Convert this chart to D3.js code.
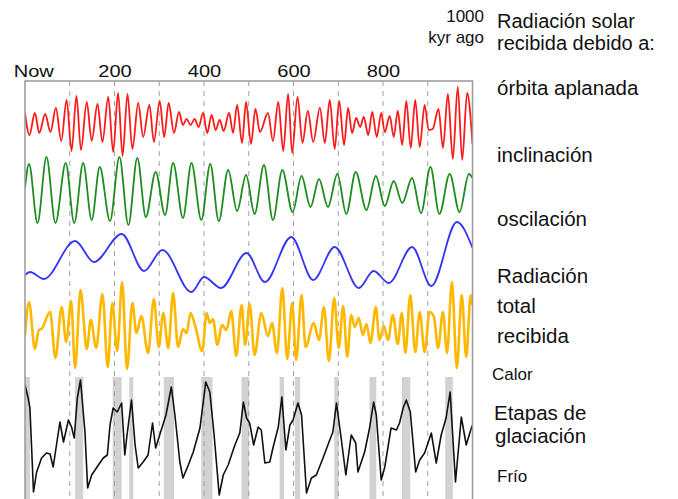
<!DOCTYPE html>
<html>
<head>
<meta charset="utf-8">
<script src="https://cdn.jsdelivr.net/npm/d3@7"></script>
<style>
  body { margin: 0; background: #fff; }
  text { font-family: "Liberation Sans", Arial, sans-serif; fill: #111; }
</style>
</head>
<body>
<div id="chart"></div>
<script>
// x axis: thousands of years ago
var tickValues = [0, 200, 400, 600, 800];
var tickLabels = ["Now", "200", "400", "600", "800"];
var gridValues = [100, 200, 300, 400, 500, 600, 700, 800, 900];

// extrema: [kyr ago, relative value]
var precession = [[0,11],[10,-11],[22,11],[32,-9],[45,10],[57,-8],[69,16],[81,-17],[93,24],[104,-27],[115,28],[125,-26],[138,22],[149,-17],[162,20],[173,-18],[186,27],[197,-28],[208,31],[218,-32],[229,30],[240,-25],[253,21],[264,-13],[278,19],[288,-18],[301,23],[311,-13],[321,21],[333,-9],[344,12],[353,-1],[361,5],[370,-1],[379,5],[388,-3],[398,11],[407,-9],[417,9],[426,-6],[435,4],[444,-7],[456,11],[465,-9],[474,19],[485,-19],[494,22],[505,-20],[515,15],[525,-8],[543,11],[554,-17],[566,22],[577,-27],[588,30],[597,-29],[609,27],[620,-19],[632,13],[644,-18],[659,16],[670,-19],[681,24],[692,-25],[702,23],[713,-21],[722,16],[731,-9],[740,6],[749,-3],[757,7],[767,-11],[776,12],[786,-13],[796,11],[804,-8],[815,8],[824,-13],[833,13],[843,-21],[852,23],[862,-24],[872,24],[882,-23],[893,19],[902,-6],[911,-5],[924,15],[934,-24],[945,30],[956,-35],[967,37],[977,-36],[988,31],[1000,-20]];

var obliquity = [[0,2],[9,26],[28,-33],[48,33],[68,-33],[91,27],[110,-33],[130,27],[149,-30],[167,23],[190,-31],[211,33],[231,-35],[251,32],[270,-27],[292,18],[313,-25],[331,27],[353,-28],[372,27],[394,-30],[414,26],[433,-31],[454,20],[474,-21],[494,15],[513,-24],[534,25],[554,-30],[575,20],[598,-22],[618,14],[638,-17],[657,11],[677,-17],[698,16],[718,-24],[739,18],[763,-20],[784,14],[804,-16],[824,9],[843,-13],[865,12],[885,-23],[906,23],[926,-24],[949,16],[971,-22],[992,16],[1000,12]];

var eccentricity = [[0,-18],[11,-15],[42,-22],[112,16],[154,-5],[216,23],[266,-14],[307,7],[372,-35],[400,-20],[438,-31],[495,4],[536,-25],[595,20],[644,-23],[692,10],[746,-31],[779,-14],[813,-26],[865,10],[908,-29],[965,35],[1000,9]];

var totalRadiation = [[0,-10],[9,23],[22,-24],[31,-5],[37,-4],[56,13],[68,-33],[82,18],[92,-17],[103,24],[112,-43],[124,35],[138,-24],[147,5],[159,-23],[173,31],[185,-42],[195,22],[206,-26],[217,43],[228,-44],[240,22],[249,-8],[260,9],[275,-28],[288,26],[299,-22],[309,12],[320,-23],[331,32],[342,-22],[353,-4],[361,-8],[370,12],[381,-2],[396,-26],[406,12],[413,2],[420,6],[430,-20],[440,0],[450,-5],[461,14],[472,-31],[484,20],[492,-20],[502,21],[513,-30],[528,12],[543,-11],[552,2],[563,-28],[575,37],[586,-34],[597,22],[606,-35],[618,30],[627,-22],[645,2],[657,-15],[668,18],[679,-36],[691,27],[701,-23],[711,19],[720,-32],[729,10],[737,-2],[746,7],[755,-10],[763,1],[772,-18],[784,18],[792,-15],[802,-1],[811,-15],[822,10],[833,-19],[842,12],[850,-28],[861,30],[872,-27],[882,13],[893,-27],[904,13],[914,8],[923,-23],[934,13],[943,-28],[954,43],[965,-43],[976,30],[986,-32],[996,30],[1000,20]];

var iceStages = [[0,110],[7,97],[11,87],[19,3],[26,23],[37,37],[48,42],[56,41],[63,28],[67,40],[78,73],[86,53],[97,75],[104,68],[110,57],[117,97],[124,115],[134,63],[140,7],[149,20],[164,30],[175,37],[184,40],[190,70],[197,87],[206,83],[216,92],[223,40],[228,60],[238,95],[246,50],[253,27],[264,33],[275,40],[285,72],[292,47],[301,60],[315,80],[327,108],[335,80],[346,33],[353,17],[365,30],[376,43],[391,67],[404,113],[413,103],[422,63],[434,0],[443,20],[454,30],[469,50],[480,62],[488,93],[495,77],[502,72],[511,50],[521,68],[528,65],[536,32],[547,33],[554,47],[566,68],[574,98],[583,45],[592,70],[599,75],[610,92],[618,80],[629,2],[640,17],[651,20],[666,37],[681,55],[688,63],[696,92],[705,62],[717,20],[729,60],[739,52],[744,23],[759,43],[770,67],[779,93],[785,80],[796,15],[804,28],[818,67],[830,65],[837,72],[845,87],[852,95],[861,83],[873,23],[882,35],[893,42],[908,62],[919,32],[930,60],[941,77],[950,103],[962,13],[975,78],[986,50],[996,65],[1000,70]];

// warm periods (grey bands), [from, to] kyr ago
var interglacials = [[0,11],[112,130],[196,216],[233,242],[310,333],[394,419],[484,501],[569,579],[603,615],[691,701],[770,785],[842,861],[939,956]];

var svgWidth = 678;
var svgHeight = 499;
var plot = { left: 25, right: 472.5, top: 81, bottom: 499 };

var svg = d3.select("#chart")
  .append("svg")
  .attr("width", svgWidth)
  .attr("height", svgHeight);

var x = d3.scaleLinear().domain([0, 1000]).range([plot.left, plot.right]);

svg.append("clipPath").attr("id", "clip")
  .append("rect")
  .attr("x", plot.left).attr("y", plot.top)
  .attr("width", plot.right - plot.left).attr("height", plot.bottom - plot.top);

// grey interglacial bands
svg.append("g").selectAll("rect")
  .data(interglacials)
  .enter()
  .append("rect")
  .attr("x", d => x(d[0]))
  .attr("width", d => x(d[1]) - x(d[0]))
  .attr("y", 377)
  .attr("height", plot.bottom - 377)
  .attr("fill", "#d2d2d2");

// dashed grid
svg.append("g").selectAll("line")
  .data(gridValues)
  .enter()
  .append("line")
  .attr("x1", d => x(d)).attr("x2", d => x(d))
  .attr("y1", plot.top).attr("y2", plot.bottom)
  .attr("stroke", "#a0a0a0")
  .attr("stroke-width", 1)
  .attr("stroke-dasharray", "5,5");

// one band per series
var bands = [
  { data: precession,     domain: [-40, 40], range: [164, 84],  color: "#ff1a1a", width: 1.8, curve: d3.curveMonotoneX },
  { data: obliquity,      domain: [-40, 40], range: [230, 150], color: "#1e8c1e", width: 1.8, curve: d3.curveMonotoneX },
  { data: eccentricity,   domain: [-40, 40], range: [297, 217], color: "#3535f5", width: 1.8, curve: d3.curveMonotoneX },
  { data: totalRadiation, domain: [-45, 45], range: [370, 280], color: "#ffb800", width: 2.6, curve: d3.curveMonotoneX },
  { data: iceStages,      domain: [0, 120],  range: [495, 375], color: "#111111", width: 1.6, curve: d3.curveLinear }
];

var lines = svg.append("g").attr("clip-path", "url(#clip)");

bands.forEach(function(b) {
  var y = d3.scaleLinear().domain(b.domain).range(b.range);
  var line = d3.line()
    .x(d => x(d[0]))
    .y(d => y(d[1]))
    .curve(b.curve);
  lines.append("path")
    .datum(b.data)
    .attr("d", line)
    .attr("fill", "none")
    .attr("stroke", b.color)
    .attr("stroke-width", b.width)
    .attr("stroke-linejoin", "round");
});

// frame
svg.append("path")
  .attr("d", `M${plot.left},${plot.bottom}V${plot.top}H${plot.right}V${plot.bottom}`)
  .attr("fill", "none")
  .attr("stroke", "#999")
  .attr("stroke-width", 1.5);

// top axis
var xAxis = d3.axisTop(x)
  .tickValues(tickValues)
  .tickFormat((d, i) => tickLabels[i])
  .tickSize(0)
  .tickPadding(4);

var axisG = svg.append("g")
  .attr("transform", `translate(0, ${plot.top})`)
  .call(xAxis)
  .attr("font-size", 17);
axisG.select(".domain").remove();
axisG.selectAll("text")
  .attr("transform", "scale(1.18,1)")
  .attr("dx", (d, i) => i === 0 ? 7 : 0);

// right side labels
var labels = [
  { t: "1000", x: 484, y: 22, s: 17, a: "end" },
  { t: "kyr ago", x: 484, y: 43, s: 17, a: "end" },
  { t: "Radiación solar", x: 497, y: 28, s: 20 },
  { t: "recibida debido a:", x: 497, y: 50, s: 20 },
  { t: "órbita aplanada", x: 497, y: 95, s: 20.5 },
  { t: "inclinación", x: 497, y: 162, s: 20.5 },
  { t: "oscilación", x: 497, y: 226, s: 20.5 },
  { t: "Radiación", x: 497, y: 283, s: 20.5 },
  { t: "total", x: 497, y: 313, s: 20.5 },
  { t: "recibida", x: 497, y: 343, s: 20.5 },
  { t: "Calor", x: 492, y: 380, s: 17 },
  { t: "Etapas de", x: 494, y: 420, s: 20.5 },
  { t: "glaciación", x: 495, y: 443, s: 20.5 },
  { t: "Frío", x: 497, y: 482, s: 17 }
];

svg.append("g").selectAll("text")
  .data(labels)
  .enter()
  .append("text")
  .attr("x", d => d.x)
  .attr("y", d => d.y)
  .attr("font-size", d => d.s)
  .attr("text-anchor", d => d.a || "start")
  .text(d => d.t);
</script>
</body>
</html>
